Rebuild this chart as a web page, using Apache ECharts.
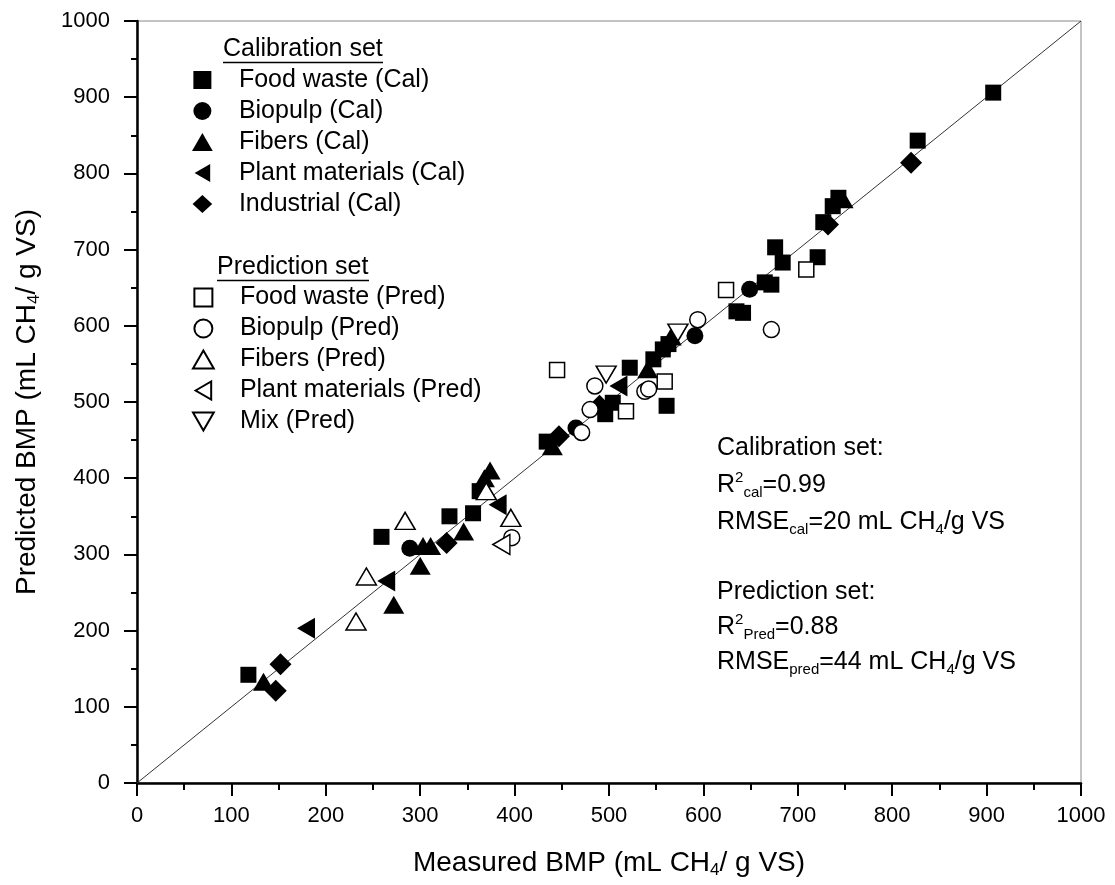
<!DOCTYPE html>
<html>
<head>
<meta charset="utf-8">
<title>Measured vs predicted BMP</title>
<script src="https://cdn.jsdelivr.net/npm/echarts@6/dist/echarts.min.js"></script>
<style>
html, body { margin: 0; padding: 0; background: #fff; }
#chart { width: 1115px; height: 885px; }
</style>
</head>
<body>
<div id="chart"></div>
<script>
// [measured, predicted] pairs
const foodCal = [[118,142],[259,323],[331,350],[356,354],[363,383],[434,448],[496,484],[504,499],[522,545],[547,556],[557,569],[561,495],[563,576],[635,619],[642,617],[665,657],[672,654],[676,703],[684,683],[721,690],[727,736],[737,757],[743,768],[827,843],[907,906]];
const bioCal = [[289,308],[465,466],[591,587],[649,648]];
const fibCal = [[134,133],[272,234],[300,285],[303,311],[311,311],[346,330],[368,400],[374,410],[440,442],[541,543],[566,586],[748,766]];
const plantCal = [[179,203],[264,265],[382,365],[510,521]];
const indCal = [[147,121],[152,156],[328,315],[447,455],[490,495],[732,733],[820,814]];

const foodPred = [[445,542],[518,488],[559,527],[624,647],[709,674]];
const bioPred = [[397,322],[471,460],[480,490],[485,521],[538,514],[542,517],[594,608],[672,595]];
const fibPred = [[232,212],[243,271],[284,344],[370,383],[396,348]];
const plantPred = [[386,313]];
const mixPred = [[497,536],[573,591]];

const identity = [[0, 0], [1000, 1000]];

const calNames = ['Food waste (Cal)', 'Biopulp (Cal)', 'Fibers (Cal)', 'Plant materials (Cal)', 'Industrial (Cal)'];
const predNames = ['Food waste (Pred)', 'Biopulp (Pred)', 'Fibers (Pred)', 'Plant materials (Pred)', 'Mix (Pred)'];

const FONT = 'Liberation Sans, Arial, sans-serif';

// legend icons as paths so they keep their aspect ratio
const ICON = {
  square: 'path://M0,0L10,0L10,10L0,10Z',
  circle: 'path://M5,0A5,5 0 1 1 5,10A5,5 0 1 1 5,0Z',
  up: 'path://M6,0L12,10.4L0,10.4Z',
  left: 'path://M0,6L10.4,0L10.4,12Z',
  down: 'path://M0,0L12,0L6,10.4Z',
  diamond: 'path://M6,0L12,5.5L6,11L0,5.5Z'
};

function pts(name, data, symbol, size, filled, rotate) {
  return {
    name: name,
    type: 'scatter',
    data: data,
    symbol: symbol,
    symbolSize: size,
    symbolRotate: rotate || 0,
    itemStyle: filled
      ? { color: '#000', borderWidth: 0, opacity: 1 }
      : { color: '#fff', borderColor: '#000', borderWidth: 1.5, opacity: 1 },
    emphasis: { disabled: true },
    z: filled ? 3 : 4
  };
}

const series = [
  {
    type: 'line',
    data: identity,
    symbol: 'none',
    silent: true,
    lineStyle: { color: '#333', width: 1 },
    z: 2
  },
  pts(calNames[0], foodCal, 'rect', 16, true),
  pts(calNames[1], bioCal, 'circle', 17, true),
  pts(calNames[2], fibCal, 'triangle', [21, 18], true),
  pts(calNames[3], plantCal, 'triangle', [21, 18], true, 90),
  pts(calNames[4], indCal, 'diamond', 22, true),
  pts(predNames[0], foodPred, 'rect', 15, false),
  pts(predNames[1], bioPred, 'circle', 16, false),
  pts(predNames[2], fibPred, 'triangle', [20, 17], false),
  pts(predNames[3], plantPred, 'triangle', [20, 17], false, 90),
  pts(predNames[4], mixPred, 'triangle', [20, 17], false, 180)
];

function legendBox(items, top) {
  return {
    data: items,
    orient: 'vertical',
    left: 192,
    top: top,
    padding: 0,
    itemWidth: 63,
    itemHeight: 18,
    itemGap: 6,
    symbolKeepAspect: true,
    selectedMode: false,
    textStyle: { fontSize: 25, color: '#000', fontFamily: FONT }
  };
}

const calLegend = [
  { name: calNames[0], icon: ICON.square },
  { name: calNames[1], icon: ICON.circle },
  { name: calNames[2], icon: ICON.up },
  { name: calNames[3], icon: ICON.left },
  { name: calNames[4], icon: ICON.diamond }
];
const predLegend = [
  { name: predNames[0], icon: ICON.square },
  { name: predNames[1], icon: ICON.circle },
  { name: predNames[2], icon: ICON.up },
  { name: predNames[3], icon: ICON.left },
  { name: predNames[4], icon: ICON.down }
];

const sub = { fontSize: 15, verticalAlign: 'bottom', lineHeight: 10, color: '#000', fontFamily: FONT };
const sup = { fontSize: 15, verticalAlign: 'top', lineHeight: 10, color: '#000', fontFamily: FONT };

function note(text, y) {
  return {
    type: 'text',
    left: 717,
    top: y - 15,
    style: {
      text: text,
      fontSize: 25,
      lineHeight: 30,
      fill: '#000',
      fontFamily: FONT,
      rich: { b: sub, p: sup }
    }
  };
}

function axisCommon(nameGap, labelMargin, tickLen, minorLen) {
  return {
    type: 'value',
    min: 0,
    max: 1000,
    interval: 100,
    nameLocation: 'middle',
    nameGap: nameGap,
    nameTextStyle: {
      fontSize: 28,
      lineHeight: 32,
      color: '#000',
      fontFamily: FONT,
      rich: { s: { fontSize: 17, verticalAlign: 'bottom', lineHeight: 10, color: '#000', fontFamily: FONT } }
    },
    axisLine: { show: true, onZero: false, lineStyle: { color: '#000', width: 2.5 } },
    axisTick: { show: true, length: tickLen, lineStyle: { color: '#000', width: 2 } },
    minorTick: { show: true, splitNumber: 2, length: minorLen, lineStyle: { color: '#000', width: 2 } },
    splitLine: { show: false },
    minorSplitLine: { show: false },
    axisLabel: {
      fontSize: 22, color: '#000', fontFamily: FONT, margin: labelMargin,
      formatter: function (v) { return String(v); }
    }
  };
}

const chart = echarts.init(document.getElementById('chart'));
chart.setOption({
  backgroundColor: '#fff',
  animation: false,
  grid: {
    left: 137, right: 34, top: 21, bottom: 102,
    show: true, borderColor: '#888', borderWidth: 1, backgroundColor: 'transparent'
  },
  xAxis: Object.assign(axisCommon(64, 22, 13, 7), { name: 'Measured BMP (mL CH{s|4}/ g VS)' }),
  yAxis: Object.assign(axisCommon(94, 27, 13, 6), { name: 'Predicted BMP (mL CH{s|4}/ g VS)' }),
  legend: [legendBox(calLegend, 67.5), legendBox(predLegend, 285)],
  graphic: [
    { type: 'text', left: 223, top: 37, style: { text: 'Calibration set', fontSize: 25, fill: '#000', fontFamily: FONT } },
    { type: 'line', shape: { x1: 223, y1: 62.5, x2: 383, y2: 62.5 }, style: { stroke: '#000', lineWidth: 1.5 } },
    { type: 'text', left: 217, top: 255, style: { text: 'Prediction set', fontSize: 25, fill: '#000', fontFamily: FONT } },
    { type: 'line', shape: { x1: 217, y1: 280.5, x2: 369, y2: 280.5 }, style: { stroke: '#000', lineWidth: 1.5 } },
    note('Calibration set:', 448),
    note('R{p|2}{b|cal}=0.99', 485),
    note('RMSE{b|cal}=20 mL CH{b|4}/g VS', 522),
    note('Prediction set:', 592),
    note('R{p|2}{b|Pred}=0.88', 627),
    note('RMSE{b|pred}=44 mL CH{b|4}/g VS', 662)
  ],
  series: series
});
</script>
</body>
</html>
